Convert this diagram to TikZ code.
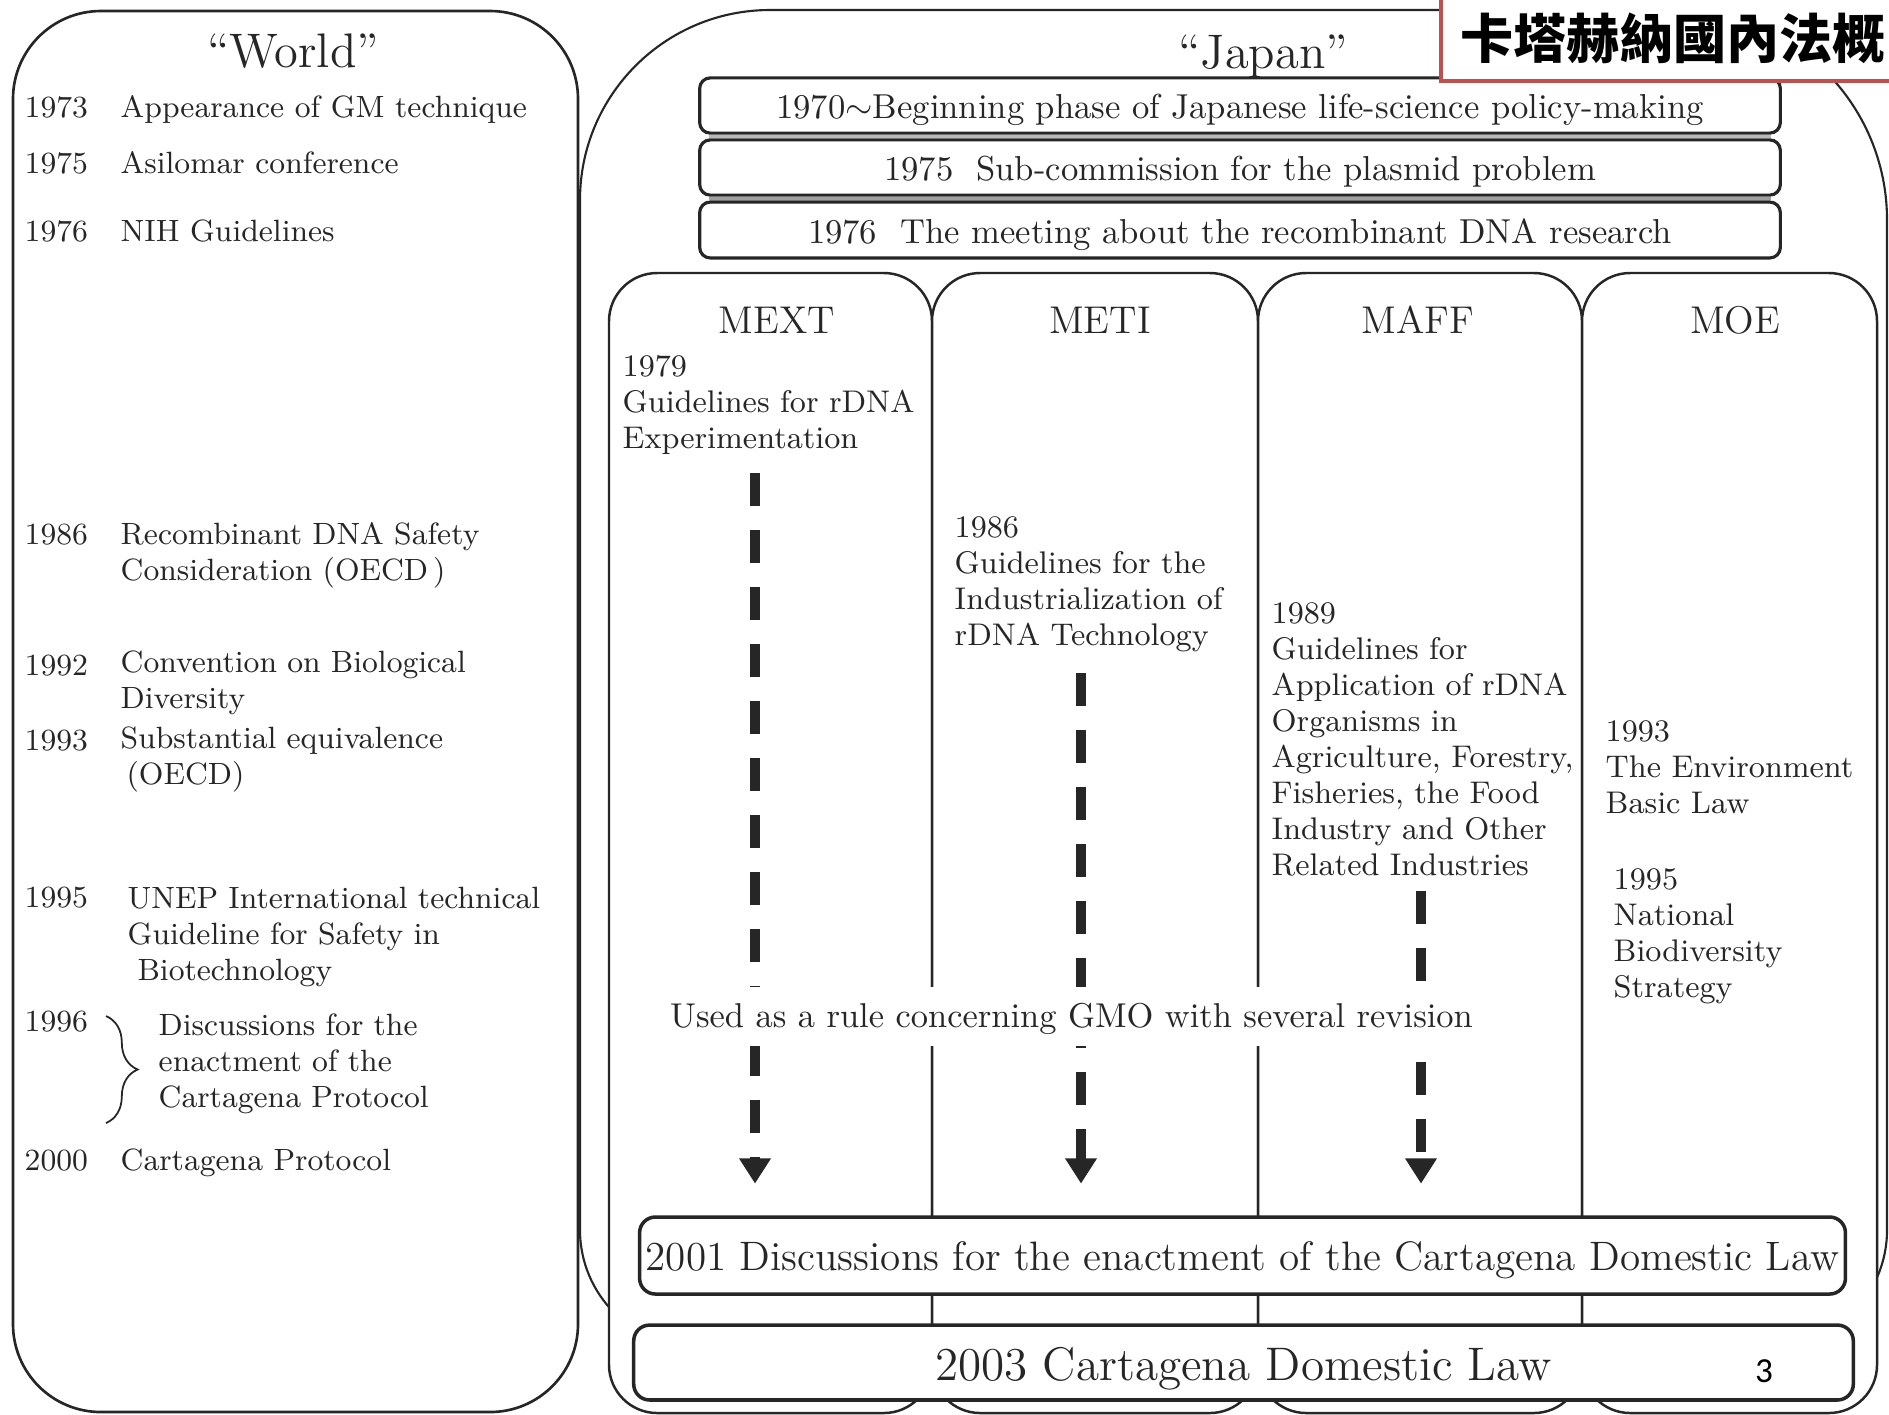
\documentclass[tikz,border=0pt]{standalone}
\usepackage{fontspec}
\newfontfamily\cjk{Noto Sans CJK TC}
\newfontfamily\slidefont{Carlito}
\usetikzlibrary{arrows.meta,decorations.pathreplacing}
\definecolor{ink}{gray}{0.15}
\definecolor{titlered}{RGB}{192,80,77}

\begin{document}
\begin{tikzpicture}[x=0.01cm,y=-0.01cm,
  every node/.style={text=ink},
  wtxt/.style={anchor=base west, inner sep=0pt, align=left, font=\fontsize{8.75}{10.25}\selectfont},
  wmulti/.style={wtxt, text width=140pt},
  ctxt/.style={anchor=base west, inner sep=0pt, align=left, text width=95pt, font=\fontsize{8.9}{10.25}\selectfont},
  heading/.style={anchor=base, inner sep=0pt, font=\fontsize{13.8}{16}\selectfont},
  ministry/.style={anchor=base, inner sep=0pt, font=\fontsize{11}{13}\selectfont},
  outline/.style={draw=ink, line width=0.75pt},
  colbox/.style={draw=ink, fill=white, line width=0.7pt, rounded corners=13.7pt},
  topbox/.style={draw=ink, fill=white, line width=0.9pt, rounded corners=3pt,
    minimum width=307.3pt, minimum height=15.7pt, inner sep=0pt,
    text height=9.4pt, text depth=2pt, font=\fontsize{9.85}{12}\selectfont},
  seam/.style={fill=gray!55},
  lawbox/.style={draw=ink, fill=white, line width=1pt, rounded corners=4.5pt, inner sep=0pt},
  dasharrow/.style={draw=ink, line width=2.6pt, dash pattern=on 9.4pt off 6.8pt,
    shorten >=9pt, -{Triangle[length=7.2pt,width=8.6pt]}},
]
\useasboundingbox (0,0) rectangle (1889,1414);
\fill[white] (0,0) rectangle (1889,1414);

% Japan container (corners of different radii)
\draw[ink, line width=0.6pt]
  (580,700) -- (580,200) arc[start angle=180, end angle=270, radius=190]
  -- (1677,10) arc[start angle=270, end angle=360, radius=210]
  -- (1887,1230) arc[start angle=0, end angle=90, radius=117]
  -- (697,1347) arc[start angle=90, end angle=180, radius=117] -- cycle;

% World container
\draw[outline, rounded corners=25pt] (13,11) rectangle (578,1412);

% ministry columns
\draw[colbox] (609,273) rectangle (932,1413);
\draw[colbox] (932,273) rectangle (1258,1413);
\draw[colbox] (1258,273) rectangle (1582,1413);
\draw[colbox] (1582,273) rectangle (1877,1413);

% headings
\node[heading] (world) at (293,67) {“World”};
\node[heading] (japan) at (1263,68) {“Japan”};

% world timeline
\node[wtxt] (y73) at (24,117) {1973};
\node[wtxt] (e73) at (120,117) {Appearance of GM technique};
\node[wtxt] (y75) at (24,173) {1975};
\node[wtxt] (e75) at (120,173) {Asilomar conference};
\node[wtxt] (y76) at (24,241) {1976};
\node[wtxt] (e76) at (120,241) {NIH Guidelines};
\node[wtxt] (y86) at (24,544) {1986};
\node[wmulti] (e86) at (120,544) {Recombinant DNA Safety\\Consideration (OECD\,)};
\node[wtxt] (y92) at (24,675) {1992};
\node[wmulti] (e92) at (120,672) {Convention on Biological\\Diversity};
\node[wtxt] (y93) at (24,750) {1993};
\node[wmulti] (e93) at (120,748) {Substantial equivalence\\\hspace*{1.7pt}(OECD)};
\node[wtxt] (y95) at (24,907) {1995};
\node[wmulti] (e95) at (127,908) {UNEP International technical\\Guideline for Safety in\\\hspace*{2.8pt}Biotechnology};
\node[wtxt] (y96) at (24,1031) {1996};
\draw[ink, line width=0.5pt, decorate, decoration={brace, amplitude=9pt}] (106,1016) -- (106,1123);
\node[wmulti] (e96) at (158,1035) {Discussions for the\\enactment of the\\Cartagena Protocol};
\node[wtxt] (y00) at (24,1170) {2000};
\node[wtxt] (e00) at (120,1170) {Cartagena Protocol};

% early Japanese policy steps
\node[topbox] (jp70) at (1240,105.5) {1970{$\sim$}Beginning phase of Japanese life-science policy-making};
\node[topbox] (jp75) at (1240,167.5) {1975\ \ Sub-commission for the plasmid problem};
\node[topbox, minimum height=15.9pt] (jp76) at (1240,230) {1976\ \ The meeting about the recombinant DNA research};
\fill[seam] ([xshift=3pt]jp70.south west) rectangle ([xshift=-3pt]jp75.north east);
\fill[seam, fill=gray!75] ([xshift=3pt]jp75.south west) rectangle ([xshift=-3pt]jp76.north east);

% ministries
\node[ministry] (mext) at (777,333) {MEXT};
\node[ministry] (meti) at (1100,333) {METI};
\node[ministry] (maff) at (1418,333) {MAFF};
\node[ministry] (moe) at (1735,333) {MOE};

\node[ctxt] (mextTxt) at (622,376) {1979\\Guidelines for rDNA\\Experimentation};
\node[ctxt] (metiTxt) at (954,537) {1986\\Guidelines for the\\Industrialization of\\rDNA Technology};
\node[ctxt] (maffTxt) at (1271,623) {1989\\Guidelines for\\Application of rDNA\\Organisms in\\Agriculture, Forestry,\\Fisheries, the Food\\Industry and Other\\Related Industries};
\node[ctxt] (moeA) at (1605,741) {1993\\The Environment\\Basic Law};
\node[ctxt] (moeB) at (1613,889) {1995\\National\\Biodiversity\\Strategy};

% Cartagena law boxes
\node[lawbox, minimum width=342.9pt, minimum height=21.9pt, text height=10.7pt, text depth=2.3pt,
  font=\fontsize{11.7}{13}\selectfont] (disc) at (1242.5,1255.5)
  {2001 Discussions for the enactment of the Cartagena Domestic Law};
\node[lawbox, minimum width=346.8pt, minimum height=21.3pt, text height=12.8pt, text depth=2.6pt,
  font=\fontsize{13.4}{15}\selectfont] (law) at (1243.5,1362.5)
  {2003 Cartagena Domestic Law};

% guideline continuity arrows
\coordinate (mextS) at (755,473);
\coordinate (metiS) at (1081,673);
\coordinate (maffS) at (1421,891);
\draw[dasharrow] (mextS) -- (mextS |- disc.north);
\draw[dasharrow] (metiS) -- (metiS |- disc.north);
\draw[dasharrow] (maffS) -- (maffS |- disc.north);

\node[fill=white, inner xsep=4pt, inner ysep=0pt, minimum height=16.8pt, text height=8.5pt, text depth=2pt,
  font=\fontsize{9.8}{12}\selectfont] (usage) at (1071.5,1016.5)
  {Used as a rule concerning GMO with several revision};

% slide title and page number
\node[fill=white, inner sep=0pt, minimum width=130pt, minimum height=26pt, anchor=south west] (ttlbox) at (1441,81) {};
\draw[titlered, line width=1pt] (ttlbox.north west) -- (ttlbox.south west) -- (ttlbox.south east);
\node[anchor=west, inner sep=0pt, text=black, font=\cjk\bfseries\fontsize{15.1}{18}\selectfont] (ttl) at (1460,38.5) {卡塔赫納國內法概};
\node[inner sep=0pt, text=black, font=\slidefont\fontsize{10}{12}\selectfont] (pg) at (1764,1371) {3};
\end{tikzpicture}
\end{document}
